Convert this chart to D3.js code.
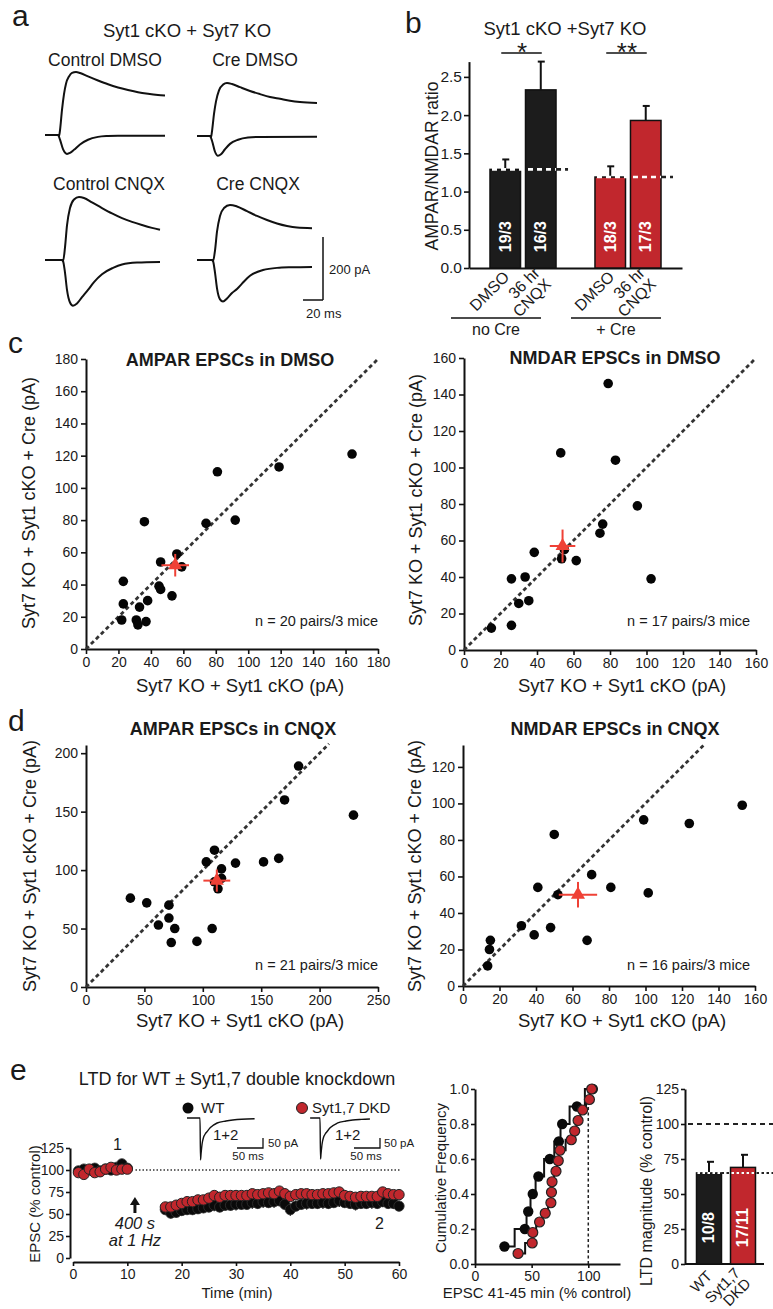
<!DOCTYPE html>
<html>
<head>
<meta charset="utf-8">
<script src="https://cdn.jsdelivr.net/npm/d3@7"></script>
<style>
  body { margin: 0; background: #fff; }
  svg { display: block; }
</style>
</head>
<body>
<div id="chart"></div>
<script>
// ---------- panel a: example traces, [ms after stimulus, pA] ----------
const traceNames = ["Control DMSO", "Cre DMSO", "Control CNQX", "Cre CNQX"];
const ctrlDmsoNmda = [[-13,0],[0,0],[1,-4],[2,15],[4,80],[6,130],[8,163],[11,186],[14,197],[18,200],[22,197],[30,186],[40,173],[50,161],[60,151],[70,143],[80,136],[90,131],[100,127],[107,125]];
const ctrlDmsoAmpa = [[-13,0],[0,0],[2,-15],[5,-45],[9,-60],[12,-57],[16,-47],[22,-30],[30,-15],[40,-6],[50,-3],[60,-2],[107,-2]];
const creDmsoNmda = [[-13,0],[0,0],[1,-4],[2,15],[4,70],[6,110],[9,145],[13,163],[17,168],[22,165],[30,155],[40,143],[50,133],[60,124],[70,118],[80,112],[90,108],[107,105]];
const creDmsoAmpa = [[-13,0],[0,0],[2,-15],[5,-50],[8,-63],[11,-58],[15,-42],[20,-25],[28,-12],[38,-5],[50,-3],[107,-2]];
const ctrlCnqxNmda = [[-17,0],[0,0],[1,-4],[3,40],[5,110],[8,165],[12,192],[17,200],[22,197],[30,183],[40,165],[50,148],[60,133],[70,121],[80,111],[90,102],[98,96]];
const ctrlCnqxAmpa = [[-17,0],[0,0],[1,-3],[3,-40],[5,-95],[8,-135],[11,-145],[15,-138],[20,-118],[26,-95],[32,-70],[40,-45],[51,-25],[60,-14],[75,-8],[98,-6]];
const creCnqxNmda = [[-15,0],[0,0],[1,-4],[3,30],[5,90],[8,140],[12,165],[18,175],[25,170],[35,155],[45,140],[55,127],[65,116],[75,108],[85,103],[100,101]];
const creCnqxAmpa = [[-15,0],[0,0],[1,-3],[3,-40],[5,-90],[8,-125],[11,-132],[15,-122],[20,-105],[25,-92],[30,-75],[38,-50],[51,-32],[65,-25],[80,-23],[100,-22]];

// ---------- panel b: AMPAR/NMDAR ratio ----------
const bGroups = ["no Cre", "+ Cre"];
const bConditions = ["DMSO", "36 hr CNQX"];
const bRatio = [1.29, 2.33, 1.19, 1.93];
const bRatioErr = [0.13, 0.37, 0.14, 0.19];
const bCounts = ["19/3", "16/3", "18/3", "17/3"];
const bStars = ["*", "**"];
const bTicks = [0, 0.5, 1, 1.5, 2, 2.5];

// ---------- panels c, d: paired EPSCs [Syt7 KO + Syt1 cKO, + Cre] in pA ----------
const cAmpaDmso = [[164,121],[119,113],[81,110],[36,79],[74,78],[92,80],[56,59],[46,54],[59,51],[23,42],[45,39],[46,37],[53,33],[23,28],[38,30],[33,26],[22,18],[31,18],[32,15],[37,17]];
const cAmpaDmsoMean = [55, 52, 8.5, 7];   // x, y, x error, y error
const cNmdaDmso = [[79,146],[53,108],[83,104],[95,79],[76,69],[74.5,64],[38.5,53.5],[53.5,50],[61.5,49],[102.5,39],[26,39],[33.5,40],[30,25.5],[35.5,27],[15,12],[26,13.5],[55,55]];
const cNmdaDmsoMean = [54, 57, 7, 9];
const dAmpaCnqx = [[182,189],[170,160],[229,147],[110,117],[103,107],[116,101],[128,106],[152,107],[165,110],[116,93],[113,84],[38,76],[52,72],[71,70],[71,59],[62,53],[76,50],[108,50],[73,38],[95,39],[110,90]];
const dAmpaCnqxMean = [112, 91, 11.5, 9.5];
const dNmdaCnqx = [[153,99],[99,91],[124,89],[50,83],[70.5,61],[41,54],[81,54],[101.5,51],[52,50],[32,33],[39,28],[48,32],[68,25],[15,25],[14.5,20],[13.5,11]];
const dNmdaCnqxMean = [63, 50, 10.5, 7];

// ---------- panel e: LTD time course (% control) ----------
const ltdTime = [1,2,3,4,5,6,7,8,9,10,17,18,19,20,21,22,23,24,25,26,27,28,29,30,31,32,33,34,35,36,37,38,39,40,41,42,43,44,45,46,47,48,49,50,51,52,53,54,55,56,57,58,59,60];
const wtLtd = [99,101,100,102,99,101,100,103,107,102,
  55,51,52,54,55,55,56,57,58,60,58,60,60,61,61,61,63,62,64,63,64,65,61,55,59,61,62,62,62,63,62,63,65,63,62,61,62,62,63,62,64,62,62,59];
const wtLtdErr = [3,3,3,3,3,3,3,3,4,3,
  6,6,6,6,6,6,6,6,6,7,6,6,6,7,6,6,7,6,7,6,7,6,6,7,6,6,7,6,6,7,6,6,7,6,6,7,6,6,7,6,6,6,6,6];
const dkdLtd = [97,95,101,97,98,101,103,100,101,101,
  58,58,60,62,64,64,66,66,68,71,69,71,71,71,71,71,73,72,73,74,73,76,73,70,72,73,73,72,72,73,73,74,75,71,70,69,70,70,70,70,75,73,72,72];
const ltdXTicks = [0,10,20,30,40,50,60];
const ltdYTicks = [0,25,50,75,100,125];
// inset sample traces, [ms, pA]
const wtInset = [[-25,0],[0,0],[1,-210],[2,-180],[4,-130],[7,-95],[10,-80],[13,-70],[20,-48],[33,-25],[50,-15],[63,-10],[80,-6],[105,-4]];
const dkdInset = [[-19,0],[0,0],[1,-205],[2,-178],[4,-130],[7,-95],[10,-80],[13,-70],[20,-48],[33,-26],[50,-15],[63,-10],[80,-7],[96,-5]];

// cumulative frequency of EPSC 41-45 min
const wtCumX = [26,44,47,51,56,66,74,77,90,104];
const wtCumY = [0.1,0.2,0.3,0.4,0.5,0.6,0.7,0.8,0.9,1.0];
const dkdCumX = [38,50.5,51,57,62,67,67.5,68,71.5,73.5,75,85,88,91,95,101,103];
const dkdCumY = [0.06,0.12,0.18,0.24,0.29,0.35,0.41,0.47,0.53,0.59,0.65,0.71,0.76,0.82,0.88,0.94,1.0];

// LTD magnitude bars
const ltdGroups = ["WT", "Syt1,7 DKD"];
const ltdMag = [65, 69];
const ltdMagErr = [8, 9];
const ltdCounts = ["10/8", "17/11"];

// ---------- drawing ----------
const W = 773, H = 1309;
const FONT = "'Liberation Sans', Arial, Helvetica, sans-serif";
const INK = "#1a1a1a";
const RED = "#c1272d";
const MEAN_RED = "#ef4136";

const svg = d3.select("#chart").append("svg")
  .attr("width", W).attr("height", H)
  .attr("viewBox", `0 0 ${W} ${H}`)
  .attr("font-family", FONT);
svg.append("rect").attr("width", W).attr("height", H).attr("fill", "#fff");

function txt(g, x, y, s, o = {}) {
  return g.append("text")
    .attr("x", x).attr("y", y)
    .attr("font-size", o.size || 14)
    .attr("font-weight", o.weight || null)
    .attr("font-style", o.style || null)
    .attr("text-anchor", o.anchor || "start")
    .attr("fill", o.fill || INK)
    .attr("transform", o.rot ? `rotate(${o.rot},${x},${y})` : null)
    .text(s);
}

function styleAxis(g, size) {
  g.attr("font-family", null).attr("font-size", null);
  g.select(".domain").attr("stroke", "#111").attr("stroke-width", 2);
  g.selectAll(".tick line").attr("stroke", "#111").attr("stroke-width", 1.6);
  g.selectAll(".tick text").attr("font-size", size).attr("fill", INK);
}

// panel letters
txt(svg, 12, 26, "a", { size: 30 });
txt(svg, 405, 33, "b", { size: 30 });
txt(svg, 8, 353, "c", { size: 30 });
txt(svg, 8, 731, "d", { size: 30 });
txt(svg, 10, 1080, "e", { size: 30 });

// ---- panel a ----
{
  const g = svg.append("g");
  txt(g, 187, 37, "Syt1 cKO + Syt7 KO", { size: 18.5, anchor: "middle" });
  const anchors = [[58, 135], [210, 136], [62, 260], [212, 260]];
  const titlePos = [[105, 66], [255, 66], [109, 190], [258, 190]];
  const traces = [
    [ctrlDmsoNmda, ctrlDmsoAmpa], [creDmsoNmda, creDmsoAmpa],
    [ctrlCnqxNmda, ctrlCnqxAmpa], [creCnqxNmda, creCnqxAmpa]
  ];
  const tx = d3.scaleLinear([0, 20], [0, 20]);
  const ty = d3.scaleLinear([0, 200], [0, -63]);
  const line = d3.line().x(d => tx(d[0])).y(d => ty(d[1])).curve(d3.curveMonotoneX);
  traceNames.forEach((name, i) => {
    txt(g, titlePos[i][0], titlePos[i][1], name, { size: 17.5, anchor: "middle" });
    const tg = g.append("g").attr("transform", `translate(${anchors[i][0]},${anchors[i][1]})`);
    tg.selectAll("path").data(traces[i]).join("path")
      .attr("d", line).attr("fill", "none")
      .attr("stroke", "#111").attr("stroke-width", 2).attr("stroke-linejoin", "round");
  });
  // scale bar
  const sb = g.append("g").attr("transform", "translate(323,300)");
  sb.append("line").attr("x1", 0).attr("x2", 0).attr("y1", ty(0)).attr("y2", ty(200))
    .attr("stroke", "#111").attr("stroke-width", 1.5);
  sb.append("line").attr("x1", -tx(20)).attr("x2", 0).attr("y1", 0).attr("y2", 0)
    .attr("stroke", "#111").attr("stroke-width", 1.5);
  txt(g, 329, 274, "200 pA", { size: 13 });
  txt(g, 306, 318, "20 ms", { size: 13 });
}

// ---- panel b ----
{
  const g = svg.append("g");
  txt(g, 565, 35, "Syt1 cKO +Syt7 KO", { size: 18.5, anchor: "middle" });
  const y = d3.scaleLinear([0, 2.7], [268, 61.6]);
  const outer = d3.scaleBand(bGroups, [469, 682]).paddingInner(0.371).paddingOuter(0.2);
  const inner = d3.scaleBand(bConditions, [0, outer.bandwidth()]).paddingInner(0.14);
  const bars = bRatio.map((v, i) => ({
    group: bGroups[Math.floor(i / 2)], cond: bConditions[i % 2],
    value: v, err: bRatioErr[i], n: bCounts[i], red: i >= 2
  }));
  const bx = d => outer(d.group) + inner(d.cond);
  const bw = inner.bandwidth();

  g.append("g").attr("transform", "translate(469,0)")
    .call(d3.axisLeft(y).tickValues(bTicks).tickFormat(d3.format(".1f")).tickSize(5).tickSizeOuter(0).tickPadding(2))
    .call(styleAxis, 15.5);
  g.append("g").attr("transform", "translate(0,268)")
    .call(d3.axisBottom(outer).tickSize(0).tickSizeOuter(0).tickFormat(""))
    .call(styleAxis, 16);
  txt(g, 438, 166, "AMPAR/NMDAR ratio", { size: 17.5, anchor: "middle", rot: -90 });

  // error bars
  g.selectAll("line.err").data(bars).join("line").attr("class", "err")
    .attr("x1", d => bx(d) + bw / 2).attr("x2", d => bx(d) + bw / 2)
    .attr("y1", d => y(d.value)).attr("y2", d => y(d.value + d.err))
    .attr("stroke", "#111").attr("stroke-width", 2);
  g.selectAll("line.cap").data(bars).join("line").attr("class", "cap")
    .attr("x1", d => bx(d) + bw / 2 - 3).attr("x2", d => bx(d) + bw / 2 + 4)
    .attr("y1", d => y(d.value + d.err)).attr("y2", d => y(d.value + d.err))
    .attr("stroke", "#111").attr("stroke-width", 2);
  g.selectAll("rect.bar").data(bars).join("rect").attr("class", "bar")
    .attr("x", bx).attr("width", bw)
    .attr("y", d => y(d.value)).attr("height", d => y(0) - y(d.value))
    .attr("fill", d => d.red ? RED : "#1c1c1c")
    .attr("stroke", "#111").attr("stroke-width", 1.5);

  // control-level dashed lines
  bGroups.forEach((grp, gi) => {
    const base = bars[gi * 2];
    const x0 = outer(grp), x1 = outer(grp) + outer.bandwidth();
    const yy = y(base.value);
    g.append("line").attr("x1", x1).attr("x2", x1 + 12).attr("y1", yy).attr("y2", yy)
      .attr("stroke", "#222").attr("stroke-width", 2.6).attr("stroke-dasharray", "5,4");
    g.append("line").attr("x1", x0 + 2).attr("x2", x1).attr("y1", yy).attr("y2", yy)
      .attr("stroke", "#fff").attr("stroke-width", 2.6).attr("stroke-dasharray", "5,4");
    // significance
    const c0 = bx(bars[gi * 2]) + bw / 2, c1 = bx(bars[gi * 2 + 1]) + bw / 2;
    g.append("line").attr("x1", c0 - 4).attr("x2", c1 + 1).attr("y1", 53).attr("y2", 53)
      .attr("stroke", "#111").attr("stroke-width", 1.6);
    txt(g, (c0 + c1) / 2 - 1, 61, bStars[gi], { size: 26, anchor: "middle" });
  });

  // n labels inside bars
  bars.forEach(d => {
    const cx = bx(d) + bw / 2, cy = y(0.41);
    g.append("text").attr("x", cx).attr("y", cy)
      .attr("transform", `rotate(-90,${cx},${cy})`)
      .attr("text-anchor", "middle").attr("dominant-baseline", "central")
      .attr("font-size", 16).attr("font-weight", "bold").attr("fill", "#fff")
      .text(d.n);
  });

  // rotated condition labels
  bars.forEach(d => {
    const cx = bx(d) + bw / 2;
    const words = d.cond === "DMSO" ? ["DMSO"] : ["36 hr", "CNQX"];
    const two = words.length > 1;
    const lg = g.append("g").attr("transform", `translate(${cx + (two ? 0 : 5)},${two ? 274 : 278}) rotate(-45)`);
    words.forEach((w, k) => {
      lg.append("text").attr("x", 0).attr("y", k * 16)
        .attr("text-anchor", "end").attr("font-size", 16).attr("fill", INK).text(w);
    });
  });

  // group brackets
  const shift = [-27, -12];
  bGroups.forEach((grp, gi) => {
    const c = outer(grp) + outer.bandwidth() / 2 + shift[gi];
    g.append("line").attr("x1", c - 45).attr("x2", c + 45).attr("y1", 318).attr("y2", 318)
      .attr("stroke", "#111").attr("stroke-width", 1.6);
    txt(g, c, 335, grp, { size: 16, anchor: "middle" });
  });
}

// ---- panels c, d: scatter helper ----
function scatterPanel(o) {
  const x = d3.scaleLinear([0, o.xMax], o.xr);
  const y = d3.scaleLinear([0, o.yMax], o.yr);
  const g = svg.append("g");
  g.append("g").attr("transform", `translate(0,${o.yr[0]})`)
    .call(d3.axisBottom(x).tickValues(o.xTicks).tickSize(5).tickSizeOuter(0).tickPadding(3))
    .call(styleAxis, 14);
  g.append("g").attr("transform", `translate(${o.xr[0]},0)`)
    .call(d3.axisLeft(y).tickValues(o.yTicks).tickSize(5).tickSizeOuter(0).tickPadding(3))
    .call(styleAxis, 14);
  g.append("line")
    .attr("x1", x(0)).attr("y1", y(0)).attr("x2", x(o.diag)).attr("y2", y(o.diag))
    .attr("stroke", "#333").attr("stroke-width", 2.8).attr("stroke-dasharray", "4,3");
  g.selectAll("circle").data(o.points).join("circle")
    .attr("cx", d => x(d[0])).attr("cy", d => y(d[1])).attr("r", 4.8).attr("fill", "#050505");
  const m = o.mean;
  g.append("line").attr("x1", x(m[0] - m[2])).attr("x2", x(m[0] + m[2]))
    .attr("y1", y(m[1])).attr("y2", y(m[1])).attr("stroke", MEAN_RED).attr("stroke-width", 2);
  g.append("line").attr("x1", x(m[0])).attr("x2", x(m[0]))
    .attr("y1", y(m[1] - m[3])).attr("y2", y(m[1] + m[3])).attr("stroke", MEAN_RED).attr("stroke-width", 2);
  g.append("path").attr("d", d3.symbol(d3.symbolTriangle, 85)())
    .attr("transform", `translate(${x(m[0])},${y(m[1])})`).attr("fill", MEAN_RED);
  txt(g, o.title[0], o.title[1], o.titleText, { size: 18, weight: "bold", anchor: "middle" });
  txt(g, o.n[0], o.n[1], o.nText, { size: 14.5, anchor: "end" });
  txt(g, o.xl[0], o.xl[1], "Syt7 KO + Syt1 cKO (pA)", { size: 18.5, anchor: "middle" });
  txt(g, o.yl[0], o.yl[1], "Syt7 KO + Syt1 cKO + Cre (pA)", { size: 18, anchor: "middle", rot: -90 });
}

scatterPanel({
  xMax: 180, yMax: 180, xr: [86, 378], yr: [649, 359], diag: 180,
  xTicks: [0,20,40,60,80,100,120,140,160,180], yTicks: [0,20,40,60,80,100,120,140,160,180],
  points: cAmpaDmso, mean: cAmpaDmsoMean,
  titleText: "AMPAR EPSCs in DMSO", title: [230, 366],
  nText: "n = 20 pairs/3 mice", n: [378, 626], xl: [240, 692], yl: [35, 503]
});
scatterPanel({
  xMax: 160, yMax: 160, xr: [464, 756], yr: [650, 358], diag: 160,
  xTicks: [0,20,40,60,80,100,120,140,160], yTicks: [0,20,40,60,80,100,120,140,160],
  points: cNmdaDmso, mean: cNmdaDmsoMean,
  titleText: "NMDAR EPSCs in DMSO", title: [615, 364],
  nText: "n = 17 pairs/3 mice", n: [750, 626], xl: [622, 692], yl: [422, 500]
});
scatterPanel({
  xMax: 250, yMax: 207, xr: [86, 378], yr: [987, 745], diag: 208,
  xTicks: [0,50,100,150,200,250], yTicks: [0,50,100,150,200],
  points: dAmpaCnqx, mean: dAmpaCnqxMean,
  titleText: "AMPAR EPSCs in CNQX", title: [233, 735],
  nText: "n = 21 pairs/3 mice", n: [378, 970], xl: [240, 1027], yl: [36, 866]
});
scatterPanel({
  xMax: 160, yMax: 132, xr: [463, 755], yr: [986, 745], diag: 132,
  xTicks: [0,20,40,60,80,100,120,140,160], yTicks: [0,20,40,60,80,100,120],
  points: dNmdaCnqx, mean: dNmdaCnqxMean,
  titleText: "NMDAR EPSCs in CNQX", title: [615, 735],
  nText: "n = 16 pairs/3 mice", n: [750, 970], xl: [622, 1027], yl: [421, 866]
});

// ---- panel e: time course ----
{
  const g = svg.append("g");
  txt(g, 237, 1085, "LTD for WT \u00b1 Syt1,7 double knockdown", { size: 18, anchor: "middle" });
  const x = d3.scaleLinear([0, 60], [73, 399]);
  const y = d3.scaleLinear([0, 125], [1258, 1148]);
  g.append("g").attr("transform", "translate(0,1262)")
    .call(d3.axisBottom(x).tickValues(ltdXTicks).tickSize(4).tickSizeOuter(0).tickPadding(3))
    .call(styleAxis, 14);
  g.append("g").attr("transform", "translate(70,0)")
    .call(d3.axisLeft(y).tickValues(ltdYTicks).tickSize(4).tickSizeOuter(0).tickPadding(2))
    .call(styleAxis, 14);
  txt(g, 237, 1298, "Time (min)", { size: 15, anchor: "middle" });
  txt(g, 40, 1204, "EPSC (% control)", { size: 15, anchor: "middle", rot: -90 });

  g.append("line").attr("x1", x(11.5)).attr("x2", x(60.2)).attr("y1", y(100)).attr("y2", y(100))
    .attr("stroke", "#333").attr("stroke-width", 1.3).attr("stroke-dasharray", "1.5,2");

  const pts = ltdTime.map((t, i) => ({ t, wt: wtLtd[i], e: wtLtdErr[i], dkd: dkdLtd[i] }));
  g.selectAll("line.wterr").data(pts).join("line").attr("class", "wterr")
    .attr("x1", d => x(d.t)).attr("x2", d => x(d.t))
    .attr("y1", d => y(d.wt - d.e)).attr("y2", d => y(d.wt + d.e))
    .attr("stroke", "#111").attr("stroke-width", 1.3);
  g.selectAll("circle.wt").data(pts).join("circle").attr("class", "wt")
    .attr("cx", d => x(d.t)).attr("cy", d => y(d.wt)).attr("r", 5.2)
    .attr("fill", "#0a0a0a").attr("stroke", "#333").attr("stroke-width", 0.8);
  g.selectAll("circle.dkd").data(pts).join("circle").attr("class", "dkd")
    .attr("cx", d => x(d.t)).attr("cy", d => y(d.dkd)).attr("r", 5.2)
    .attr("fill", RED).attr("stroke", "#222").attr("stroke-width", 1);

  txt(g, x(8.2), 1150, "1", { size: 16, anchor: "middle" });
  txt(g, x(56.4), 1229, "2", { size: 16, anchor: "middle" });
  // arrow
  const ax = x(11.4);
  g.append("line").attr("x1", ax).attr("x2", ax).attr("y1", 1213).attr("y2", 1204)
    .attr("stroke", "#111").attr("stroke-width", 3);
  g.append("path").attr("d", `M${ax - 5},${1205}L${ax + 5},${1205}L${ax},${1197}Z`).attr("fill", "#111");
  txt(g, ax, 1229, "400 s", { size: 16.5, style: "italic", anchor: "middle" });
  txt(g, ax, 1246, "at 1 Hz", { size: 16.5, style: "italic", anchor: "middle" });

  // legend
  g.append("circle").attr("cx", 188).attr("cy", 1108).attr("r", 5.5).attr("fill", "#0a0a0a");
  txt(g, 201, 1113, "WT", { size: 15 });
  g.append("circle").attr("cx", 302).attr("cy", 1108).attr("r", 5.5).attr("fill", RED).attr("stroke", "#222");
  txt(g, 312, 1113, "Syt1,7 DKD", { size: 15 });

  // inset traces
  const ix = d3.scaleLinear([0, 50], [0, 26]);
  const iy = d3.scaleLinear([0, 50], [0, -10]);
  const iline = d3.line().x(d => ix(d[0])).y(d => iy(d[1])).curve(d3.curveMonotoneX);
  [[wtInset, 200, 263, 213, 268, 248], [dkdInset, 320, 380, 335, 384, 366]].forEach(([tr, sx, bxr, plusX, paX, msX]) => {
    g.append("path").attr("d", iline(tr)).attr("transform", `translate(${sx},1118)`)
      .attr("fill", "none").attr("stroke", "#111").attr("stroke-width", 1.4);
    txt(g, plusX, 1140, "1+2", { size: 15 });
    g.append("path").attr("d", `M${bxr - ix(50)},1148H${bxr}V${1148 + iy(50)}`)
      .attr("fill", "none").attr("stroke", "#111").attr("stroke-width", 1.3);
    txt(g, paX, 1147, "50 pA", { size: 11.5 });
    txt(g, msX, 1160, "50 ms", { size: 11.5, anchor: "middle" });
  });
}

// ---- panel e: cumulative frequency ----
{
  const g = svg.append("g");
  const x = d3.scaleLinear([0, 128], [475, 620]);
  const y = d3.scaleLinear([0, 1], [1264, 1089]);
  g.append("g").attr("transform", "translate(0,1264)")
    .call(d3.axisBottom(x).tickValues([0, 50, 100]).tickSize(4).tickSizeOuter(0).tickPadding(3))
    .call(styleAxis, 14);
  g.append("g").attr("transform", "translate(475,0)")
    .call(d3.axisLeft(y).tickValues([0, 0.2, 0.4, 0.6, 0.8, 1.0]).tickFormat(d3.format(".1f")).tickSize(4).tickSizeOuter(0).tickPadding(2))
    .call(styleAxis, 14);
  txt(g, 537, 1298, "EPSC 41-45 min (% control)", { size: 15, anchor: "middle" });
  txt(g, 446, 1178, "Cumulative Frequency", { size: 15, anchor: "middle", rot: -90 });
  g.append("line").attr("x1", x(100)).attr("x2", x(100)).attr("y1", y(0)).attr("y2", y(1.01))
    .attr("stroke", "#222").attr("stroke-width", 1.5).attr("stroke-dasharray", "3,2.5");

  const step = d3.line().x(d => x(d[0])).y(d => y(d[1])).curve(d3.curveStep);
  const wt = wtCumX.map((v, i) => [v, wtCumY[i]]);
  const dkd = dkdCumX.map((v, i) => [v, dkdCumY[i]]);
  [wt, dkd].forEach(s => g.append("path").attr("d", step(s)).attr("fill", "none")
    .attr("stroke", "#111").attr("stroke-width", 2));
  g.selectAll("circle.wt").data(wt).join("circle").attr("class", "wt")
    .attr("cx", d => x(d[0])).attr("cy", d => y(d[1])).attr("r", 5.2).attr("fill", "#0a0a0a");
  g.selectAll("circle.dkd").data(dkd).join("circle").attr("class", "dkd")
    .attr("cx", d => x(d[0])).attr("cy", d => y(d[1])).attr("r", 5)
    .attr("fill", RED).attr("stroke", "#222").attr("stroke-width", 1.2);
}

// ---- panel e: LTD magnitude ----
{
  const g = svg.append("g");
  const y = d3.scaleLinear([0, 125], [1264, 1089]);
  const x = d3.scaleBand(ltdGroups, [688, 764]).paddingInner(0.265).paddingOuter(0.25);
  const bw = x.bandwidth();
  g.append("g").attr("transform", "translate(685,0)")
    .call(d3.axisLeft(y).tickValues(ltdYTicks).tickSize(4).tickSizeOuter(0).tickPadding(2))
    .call(styleAxis, 14);
  g.append("line").attr("x1", 685).attr("x2", 764).attr("y1", y(0)).attr("y2", y(0))
    .attr("stroke", "#111").attr("stroke-width", 2);
  txt(g, 652, 1191, "LTD magnitude (% control)", { size: 16, anchor: "middle", rot: -90 });

  g.append("line").attr("x1", 688).attr("x2", 773).attr("y1", y(100)).attr("y2", y(100))
    .attr("stroke", "#222").attr("stroke-width", 2.2).attr("stroke-dasharray", "5,4");

  const bars = ltdGroups.map((k, i) => ({ k, v: ltdMag[i], e: ltdMagErr[i], n: ltdCounts[i], red: i === 1 }));
  g.selectAll("line.err").data(bars).join("line").attr("class", "err")
    .attr("x1", d => x(d.k) + bw / 2).attr("x2", d => x(d.k) + bw / 2)
    .attr("y1", d => y(d.v)).attr("y2", d => y(d.v + d.e))
    .attr("stroke", "#111").attr("stroke-width", 2);
  g.selectAll("line.cap").data(bars).join("line").attr("class", "cap")
    .attr("x1", d => x(d.k) + bw / 2 - 2).attr("x2", d => x(d.k) + bw / 2 + 5)
    .attr("y1", d => y(d.v + d.e)).attr("y2", d => y(d.v + d.e))
    .attr("stroke", "#111").attr("stroke-width", 2);
  g.selectAll("rect").data(bars).join("rect")
    .attr("x", d => x(d.k)).attr("width", bw)
    .attr("y", d => y(d.v)).attr("height", d => y(0) - y(d.v))
    .attr("fill", d => d.red ? RED : "#1c1c1c").attr("stroke", "#111").attr("stroke-width", 1.5);

  const yy = y(ltdMag[0]);
  g.append("line").attr("x1", x(ltdGroups[0])).attr("x2", 773).attr("y1", yy).attr("y2", yy)
    .attr("stroke", "#222").attr("stroke-width", 2.2).attr("stroke-dasharray", "2.5,2.5");
  bars.forEach(d => {
    g.append("line").attr("x1", x(d.k) + 1).attr("x2", x(d.k) + bw).attr("y1", yy).attr("y2", yy)
      .attr("stroke", "#fff").attr("stroke-width", 2.2).attr("stroke-dasharray", "2.5,2.5");
  });

  bars.forEach(d => {
    const cx = x(d.k) + bw / 2, cy = y(26);
    g.append("text").attr("x", cx).attr("y", cy)
      .attr("transform", `rotate(-90,${cx},${cy})`)
      .attr("text-anchor", "middle").attr("dominant-baseline", "central")
      .attr("font-size", 16).attr("font-weight", "bold").attr("fill", "#fff").text(d.n);
    const words = d.k === "WT" ? ["WT"] : ["Syt1,7", "DKD"];
    const lg = g.append("g").attr("transform", `translate(${cx + (words.length > 1 ? -2 : 4)},${words.length > 1 ? 1274 : 1277}) rotate(-45)`);
    words.forEach((w, k) => {
      lg.append("text").attr("x", 0).attr("y", k * 15).attr("text-anchor", "end")
        .attr("font-size", 15).attr("fill", INK).text(w);
    });
  });
}
</script>
</body>
</html>
